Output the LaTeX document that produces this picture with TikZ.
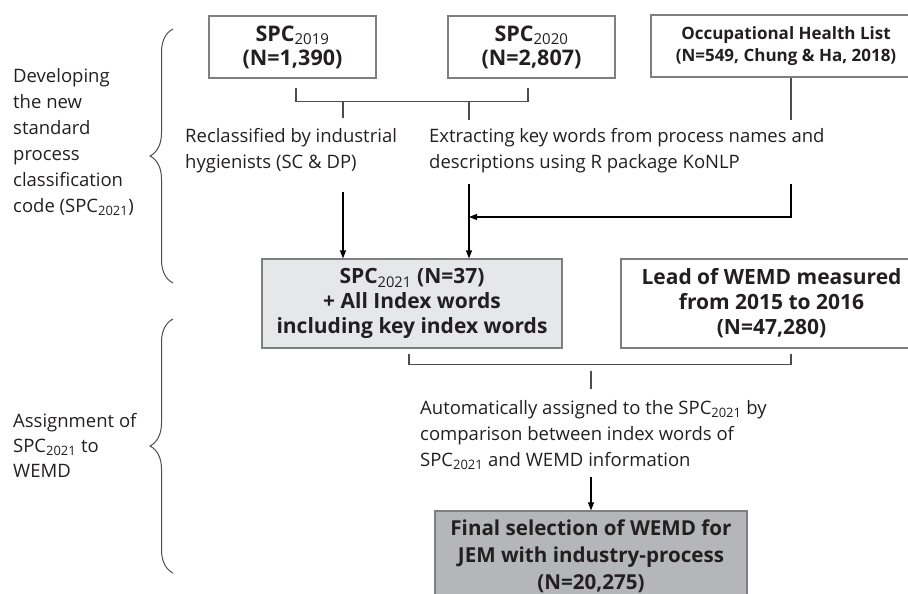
\documentclass[tikz,border=0pt]{standalone}
\usepackage{fontspec}
\setmainfont{Open Sans}
\usetikzlibrary{arrows.meta,decorations.pathreplacing}
\definecolor{ink}{HTML}{231F20}
\definecolor{frame}{HTML}{7F7F7F}
\definecolor{wire}{HTML}{4D4D4D}
\definecolor{lightfill}{HTML}{E6E7E8}
\definecolor{darkfill}{HTML}{B5B6B9}
\newcommand{\yr}[1]{\textsubscript{\mdseries #1}}
\tikzset{
  box/.style={draw=frame, line width=1.2pt, text=ink, align=center, inner sep=0pt,
    font=\bfseries\fontsize{21}{25}\selectfont},
  note/.style={text=ink, align=left, inner sep=0pt, anchor=base west,
    font=\fontsize{18.5}{26}\selectfont},
  link/.style={draw=wire, line width=1.2pt},
  arrow/.style={link, draw=black, -{Triangle[length=8pt,width=6pt]}},
  stage/.style={draw=wire, line width=1pt, decorate, decoration={brace,amplitude=23pt}}
}
\begin{document}
\begin{tikzpicture}[x=1pt,y=-1pt]
\useasboundingbox (0,0) rectangle (908,594);
\clip (0,0) rectangle (908,594);
% sources
\node[box, minimum width=167pt, minimum height=62pt, font=\bfseries\fontsize{21.5}{24}\selectfont] (spc19) at (292.5,47) {SPC\yr{2019}\\(N=1,390)};
\node[box, minimum width=167pt, minimum height=62pt, font=\bfseries\fontsize{21.5}{24}\selectfont] (spc20) at (531.5,47) {SPC\yr{2020}\\(N=2,807)};
\node[box, minimum width=270pt, minimum height=62pt, font=\bfseries\fontsize{17}{22}\selectfont] (ohl) at (786,46) {Occupational Health List\\(N=549, Chung \& Ha, 2018)};
% steps (base = last line)
\node[note] (reclass) at (185,168) {Reclassified by industrial\\hygienists (SC \& DP)};
\node[note] (extract) at (429,168) {Extracting key words from process names and\\descriptions using R package KoNLP};
% results
\node[box, fill=lightfill, minimum width=300pt, minimum height=89pt] (spc21) at (412,303.5) {SPC\yr{2021} (N=37)\\+ All Index words\\including key index words};
\node[box, minimum width=301pt, minimum height=89pt] (lead) at (771.5,303.5) {Lead of WEMD measured\\from 2015 to 2016\\(N=47,280)};
\node[note] (auto) at (420,466) {Automatically assigned to the SPC\yr{2021} by\\comparison between index words of\\SPC\yr{2021} and WEMD information};
\node[box, fill=darkfill, minimum width=312pt, minimum height=90pt, font=\bfseries\fontsize{20.6}{27}\selectfont] (final) at (591,556) {Final selection of WEMD for\\JEM with industry-process\\(N=20,275)};
% stages
\node[note] (dev) at (13,212) {Developing\\the new\\standard\\process\\classification\\code (SPC\yr{2021})};
\node[note, font=\fontsize{18.5}{25}\selectfont] (assign) at (13,477) {Assignment of\\SPC\yr{2021} to\\WEMD};
\draw[stage] (173,283) -- (173,29);
\draw[stage] (173,573) -- (173,319);
% connectors
\draw[link] ([xshift=3.5pt,yshift=-9pt]spc19.south) -- ++(0,14) -| ([xshift=-3.5pt,yshift=-9pt]spc20.south);
\coordinate (jA) at (343,101);
\coordinate (jB) at (469,101);
\draw[link] (jA) -- ++(0,17);
\draw[link] (jB) -- ++(0,19);
\coordinate (rA) at (343,192);
\coordinate (rB) at (469,184);
\draw[arrow] (rA) -- (rA |- spc21.north);
\draw[arrow] (rB) -- (rB |- spc21.north);
\draw[link] ([xshift=5pt]ohl.south) -- ++(0,42);
\coordinate (kw) at (791,184);
\coordinate (m) at (469,217);
\draw[arrow] (kw) |- (m);
\draw[link] ([xshift=-3pt,yshift=-5pt]spc21.south) -- ++(0,11) -| ([xshift=19.5pt,yshift=-5pt]lead.south);
\draw[link] (final.north |- spc21.south) ++(0,22) -- ++(0,18);
\draw[arrow] ([yshift=33pt]final.north) -- (final.north);
\end{tikzpicture}
\end{document}
